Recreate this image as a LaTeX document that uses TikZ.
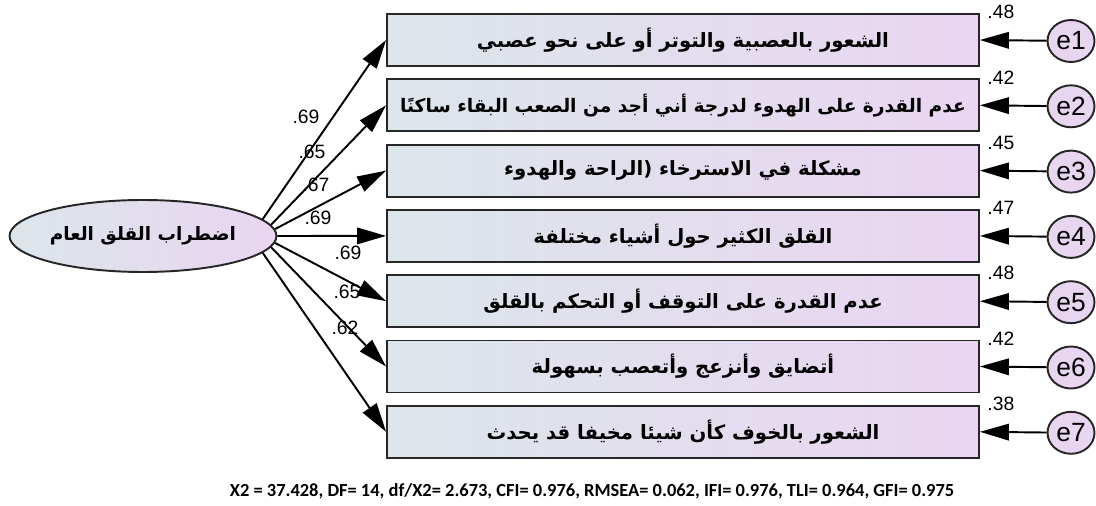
\documentclass[tikz,border=0pt]{standalone}
\usepackage{fontspec}
\setmainfont{Liberation Sans}
\newfontfamily\arabicfont[Script=Arabic]{DejaVu Sans}
\newfontfamily\fitfont{Carlito}
\TeXXeTstate=1
\usetikzlibrary{shapes.geometric, arrows.meta, positioning}
\definecolor{itemleft}{HTML}{DCE6EA}
\definecolor{itemright}{HTML}{EAD5F2}
\definecolor{errfill}{HTML}{E8D5F0}

\begin{document}
\begin{tikzpicture}[x=0.02cm, y=-0.02cm,
  item/.style={rectangle, draw=black!85, line width=1.1pt, minimum width=11.84cm, minimum height=1.04cm, inner xsep=2pt, left color=itemleft, right color=itemright, font=\arabicfont\bfseries\fontsize{11.2}{13}\selectfont},
  latent/.style={ellipse, draw=black!85, line width=1.1pt, minimum width=5.34cm, minimum height=1.44cm, inner sep=0pt, left color=itemleft, right color=itemright, font=\arabicfont\bfseries\fontsize{10.5}{12}\selectfont},
  err/.style={ellipse, draw=black!85, line width=1.1pt, minimum width=0.94cm, minimum height=0.84cm, inner sep=0pt, fill=errfill, font=\fontsize{15}{17}\selectfont},
  num/.style={font=\fontsize{11}{12}\selectfont, inner sep=0pt},
  path/.style={line width=1.1pt, -{Triangle[length=0.58cm, width=0.33cm]}}]
\useasboundingbox (0,0) rectangle (1096,506);

% Latent variable
\node[latent] (gad) at (143,236) {\beginR اضطراب القلق العام\endR};

% Items
\node[item] (q1) at (683,40) {\beginR الشعور بالعصبية والتوتر أو على نحو عصبي\endR};
\node[item, font=\arabicfont\bfseries\fontsize{10.6}{13}\selectfont] (q2) at (683,105.3) {\beginR عدم القدرة على الهدوء لدرجة أني أجد من الصعب البقاء ساكنًا\endR};
\node[item] (q3) at (683,170.6) {\beginR مشكلة في الاسترخاء (الراحة والهدوء\endR};
\node[item] (q4) at (683,235.9) {\beginR القلق الكثير حول أشياء مختلفة\endR};
\node[item] (q5) at (683,301.2) {\beginR عدم القدرة على التوقف أو التحكم بالقلق\endR};
\node[item] (q6) at (683,366.5) {\beginR أتضايق وأنزعج وأتعصب بسهولة\endR};
\node[item] (q7) at (683,431.8) {\beginR الشعور بالخوف كأن شيئا مخيفا قد يحدث\endR};

% Errors
\node[err] (e1) at (1071,41) {e1};
\node[err] (e2) at (1071,106.3) {e2};
\node[err] (e3) at (1071,171.6) {e3};
\node[err] (e4) at (1071,236.9) {e4};
\node[err] (e5) at (1071,302.2) {e5};
\node[err] (e6) at (1071,367.5) {e6};
\node[err] (e7) at (1071,432.8) {e7};

% Paths
\draw[path] (gad.8) -- (q1.west);
\draw[path] (gad.5) -- (q2.west);
\draw[path] (gad.3) -- (q3.west);
\draw[path] (gad.east) -- (q4.west);
\draw[path] (gad.-3) -- (q5.west);
\draw[path] (gad.-5) -- (q6.west);
\draw[path] (gad.-8) -- (q7.west);
\draw[path] (e1) -- (q1.east);
\draw[path] (e2) -- (q2.east);
\draw[path] (e3) -- (q3.east);
\draw[path] (e4) -- (q4.east);
\draw[path] (e5) -- (q5.east);
\draw[path] (e6) -- (q6.east);
\draw[path] (e7) -- (q7.east);

% Loadings
\node[num] (l1) at (306,117) {.69};
\node[num] (l2) at (312,152) {.65};
\node[num] (l3) at (316,185) {.67};
\node[num] (l4) at (318,218) {.69};
\node[num] (l5) at (348,253) {.69};
\node[num] (l6) at (347,292) {.65};
\node[num] (l7) at (345,328) {.62};

% Squared multiple correlations
\node[num] (r1) at (q1.north east) [xshift=0.42cm, yshift=0.02cm] {.48};
\node[num] (r2) at (q2.north east) [xshift=0.42cm, yshift=0.02cm] {.42};
\node[num] (r3) at (q3.north east) [xshift=0.42cm, yshift=0.02cm] {.45};
\node[num] (r4) at (q4.north east) [xshift=0.42cm, yshift=0.02cm] {.47};
\node[num] (r5) at (q5.north east) [xshift=0.42cm, yshift=0.02cm] {.48};
\node[num] (r6) at (q6.north east) [xshift=0.42cm, yshift=0.02cm] {.42};
\node[num] (r7) at (q7.north east) [xshift=0.42cm, yshift=0.02cm] {.38};

% Fit indices
\node[font=\fitfont\bfseries\fontsize{10.5}{12}\selectfont] (fit) at (592,491) {X2 = 37.428, DF= 14, df/X2= 2.673, CFI= 0.976, RMSEA= 0.062, IFI= 0.976, TLI= 0.964, GFI= 0.975};
\end{tikzpicture}
\end{document}
